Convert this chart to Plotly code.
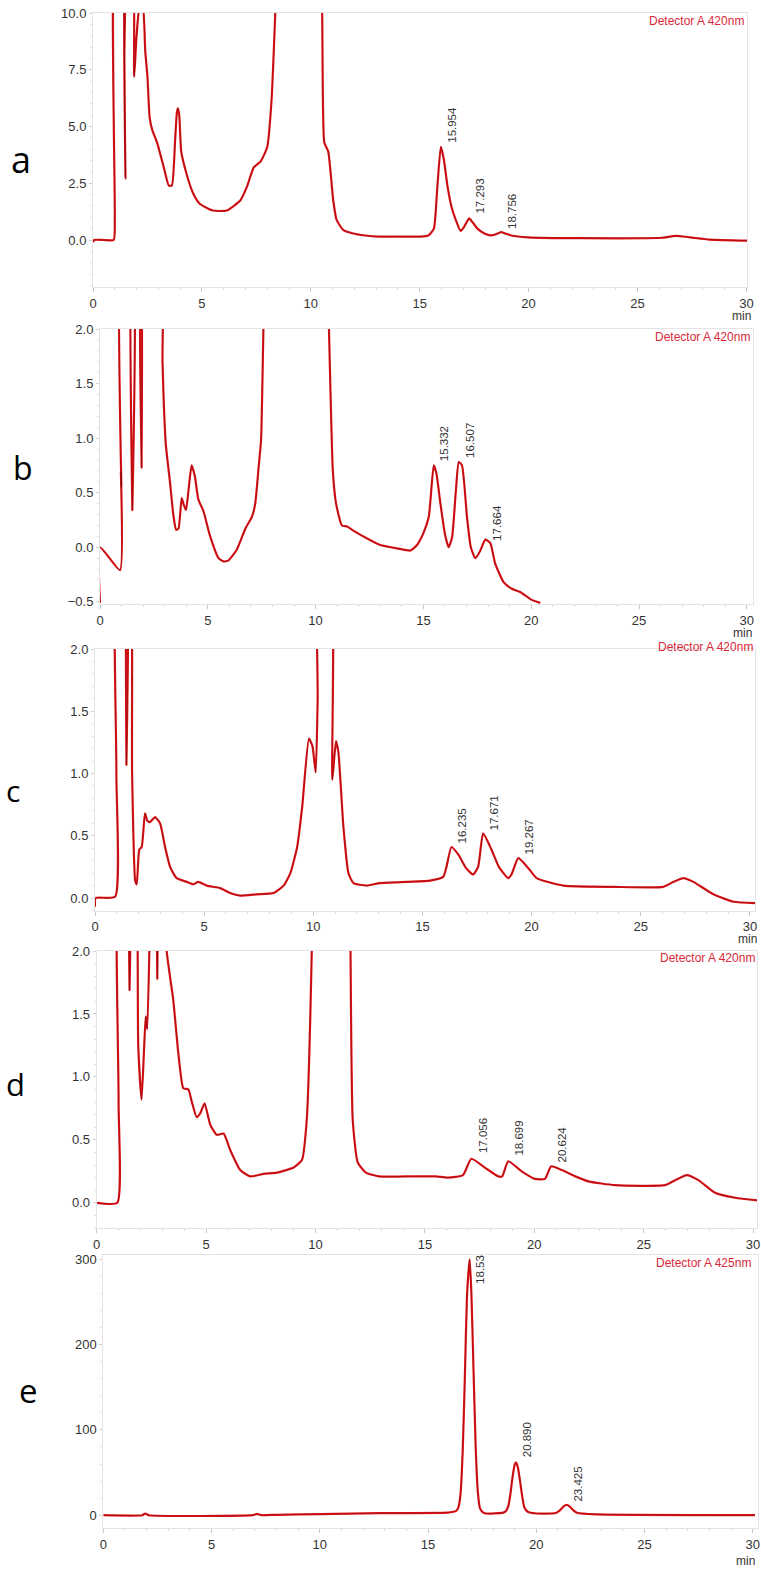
import plotly.graph_objects as go

W, H = 761, 1570

# ---- values (time in min) ----
a_t = [0, 0.05, 0.5, 0.95, 1.0, 1.06, 1.40, 1.44, 1.49, 1.55, 1.78, 1.89, 2.0, 2.15, 2.28, 2.4, 2.5,
       2.6, 2.72, 2.94, 3.25, 3.48, 3.62, 3.77, 3.85, 3.9, 3.96, 4.05, 4.3, 4.6, 4.9, 5.5, 6.15, 6.77,
       7.07, 7.38, 7.69, 8.0, 8.2, 8.37, 8.6, 10.3, 10.52, 10.62, 10.8, 11.03, 11.18, 11.48, 11.9,
       12.5, 13.1, 14.0, 15.05, 15.4, 15.65, 15.8, 15.97, 16.1, 16.28, 16.45, 16.65, 16.88, 17.05,
       17.27, 17.45, 17.65, 17.95, 18.27, 18.5, 18.73, 18.95, 19.2, 19.97, 22.4, 26.1, 26.75, 27.4,
       28.3, 30.05]
a_y = [-0.1, 0.0, 0.0, 0.0, 1.0, 14, 14, 8, 2.7, 14, 14, 7.2, 9.0, 10.3, 10.3, 8.3, 7.2,
       5.4, 4.85, 4.3, 3.2, 2.4, 2.4, 4.4, 5.6, 5.8, 5.5, 3.9, 2.9, 2.05, 1.6, 1.3, 1.3, 1.75,
       2.35, 3.2, 3.45, 4.1, 6.2, 10, 16, 16, 10, 4.3, 3.9, 1.75, 0.9, 0.45, 0.3,
       0.2, 0.15, 0.15, 0.15, 0.2, 0.5, 2.2, 4.1, 3.6, 2.35, 1.5, 0.9, 0.4, 0.6,
       0.95, 0.75, 0.5, 0.3, 0.2, 0.25, 0.35, 0.28, 0.2, 0.12, 0.08, 0.1, 0.18, 0.12,
       0.02, -0.03]
a_pk_t = [15.97, 17.27, 18.73]
a_pk_y = [4.1, 0.95, 0.35]
a_pk_lbl = ["15.954", "17.293", "18.756"]

b_t = [0, 0, 0.93, 0.97, 0.99, 1.03, 1.46, 1.5, 1.54, 1.8, 1.93, 2.06, 2.8, 2.9, 3.05, 3.25, 3.4,
       3.53, 3.64, 3.79, 3.9, 3.99, 4.12, 4.25, 4.4, 4.56, 4.8, 5.11, 5.5, 5.73, 5.96, 6.35, 6.74,
       7.05, 7.2, 7.36, 7.47, 7.58, 7.7, 10.5, 10.62, 10.8, 10.95, 11.22, 11.46, 11.77, 12.39,
       13.0, 13.78, 14.4, 14.7, 15.0, 15.25, 15.48, 15.6, 15.79, 16.0, 16.17, 16.33, 16.5, 16.64,
       16.79, 17.02, 17.2, 17.41, 17.64, 17.87, 18.1, 18.33, 18.72, 19.1, 19.49, 20.0, 20.42]
b_y = [-0.51, 0.0, -0.21, 0.69, 0.55, 3, 3, 0.34, 3, 3, 0.73, 3, 3, 1.7, 0.95, 0.59, 0.3,
       0.16, 0.17, 0.45, 0.38, 0.34, 0.55, 0.75, 0.65, 0.44, 0.33, 0.1, -0.1, -0.13, -0.12, -0.02, 0.17,
       0.28, 0.4, 0.74, 0.98, 2.0, 3, 3, 2.0, 0.7, 0.4, 0.2, 0.19, 0.15, 0.08,
       0.02, -0.01, -0.03, 0.02, 0.13, 0.28, 0.75, 0.68, 0.4, 0.12, 0.0, 0.09, 0.5, 0.78,
       0.75, 0.28, 0.0, -0.1, -0.03, 0.07, 0.04, -0.15, -0.32, -0.38, -0.41, -0.48, -0.51]
b_pk_t = [15.48, 16.64, 17.87]
b_pk_y = [0.75, 0.78, 0.07]
b_pk_lbl = ["15.332", "16.507", "17.664"]

c_t = [0, 0.03, 0.92, 0.98, 1.02, 1.38, 1.44, 1.5, 1.6, 1.7, 1.84, 1.91, 2.03, 2.14, 2.29, 2.4,
       2.52, 2.75, 2.98, 3.21, 3.44, 3.74, 4.2, 4.5, 4.73, 5.12, 5.73, 6.19, 6.65, 7.41, 8.18,
       8.64, 8.95, 9.26, 9.49, 9.8, 9.96, 10.11, 10.2, 10.28, 10.75, 10.87, 11.04, 11.15, 11.38,
       11.61, 11.84, 12.45, 13.05, 15.34, 15.95, 16.1, 16.33, 16.64, 17.0, 17.32, 17.55, 17.78,
       18.16, 18.5, 18.93, 19.08, 19.39, 19.85, 20.23, 21.45, 23.74, 26.03, 26.5, 26.96, 27.41,
       28.33, 29.25, 30.25]
c_y = [-0.07, 0.0, 0.01, 1.0, 3, 3, 1.07, 3, 3, 1.0, 0.14, 0.11, 0.39, 0.41, 0.68, 0.62,
       0.61, 0.65, 0.6, 0.41, 0.25, 0.16, 0.13, 0.11, 0.13, 0.1, 0.08, 0.04, 0.02, 0.03, 0.04,
       0.1, 0.2, 0.41, 0.73, 1.28, 1.22, 1.01, 1.6, 3, 3, 0.95, 1.26, 1.17, 0.57,
       0.2, 0.12, 0.1, 0.12, 0.14, 0.17, 0.25, 0.41, 0.35, 0.24, 0.19, 0.25, 0.52,
       0.39, 0.25, 0.16, 0.19, 0.32, 0.24, 0.16, 0.1, 0.09, 0.09, 0.13, 0.16, 0.13,
       0.03, -0.03, -0.04]
c_pk_t = [16.33, 17.78, 19.39]
c_pk_y = [0.41, 0.52, 0.32]
c_pk_lbl = ["16.235", "17.671", "19.267"]

d_t = [0, 0.94, 1.0, 1.05, 1.45, 1.5, 1.55, 1.72, 1.9, 2.05, 2.16, 2.24, 2.31, 2.43, 2.5, 2.7,
       2.77, 2.84, 3.1, 3.2, 3.5, 3.73, 3.96, 4.19, 4.35, 4.57, 4.73, 4.93, 5.19, 5.49, 5.8, 6.1,
       6.56, 7.02, 7.63, 8.24, 9.0, 9.38, 9.6, 9.83, 9.9, 11.55, 11.6, 11.7, 11.93, 12.3, 12.9,
       14.5, 15.5, 16.05, 16.74, 17.12, 17.74, 18.35, 18.53, 18.81, 19.42, 20.03, 20.49, 20.77,
       21.26, 21.87, 22.48, 23.7, 25.98, 26.44, 26.97, 27.5, 28.26, 29.18, 30.2]
d_y = [0.0, 0.0, 0.8, 3, 3, 1.69, 3, 3, 1.24, 0.82, 1.2, 1.48, 1.38, 2.2, 3, 3,
       1.78, 3, 3, 2.0, 1.61, 1.19, 0.91, 0.9, 0.8, 0.68, 0.71, 0.79, 0.62, 0.54, 0.55, 0.42,
       0.26, 0.21, 0.23, 0.24, 0.28, 0.34, 0.66, 2.0, 3, 3, 2.0, 0.66, 0.32, 0.24, 0.21,
       0.21, 0.21, 0.2, 0.22, 0.35, 0.28, 0.21, 0.21, 0.33, 0.25, 0.19, 0.19, 0.29,
       0.26, 0.21, 0.17, 0.14, 0.14, 0.18, 0.22, 0.18, 0.08, 0.04, 0.02]
d_pk_t = [17.12, 18.81, 20.77]
d_pk_y = [0.35, 0.33, 0.29]
d_pk_lbl = ["17.056", "18.699", "20.624"]

e_t = [0, 1.8, 1.94, 2.1, 6.9, 7.1, 7.3, 8.0, 10.0, 12.8, 15.9, 16.3, 16.4, 16.5, 16.6, 16.7,
       16.8, 16.92, 17.0, 17.1, 17.2, 17.3, 17.4, 17.55, 17.7, 18.47, 18.6, 18.7, 18.8, 18.9,
       19.0, 19.06, 19.15, 19.25, 19.35, 19.45, 19.6, 20.0, 20.9, 21.1, 21.25, 21.4, 21.55,
       21.7, 21.9, 22.78, 30.1]
e_y = [0, 0, 2, 0, 0, 1.5, 0, 0.5, 1.2, 2.5, 3, 5, 9, 25, 75, 162,
       258, 300, 262, 170, 80, 27, 8, 3, 2, 3, 5, 10, 24, 44,
       59, 62, 56, 40, 22, 9, 4, 2, 2.5, 6, 10, 12, 10,
       6, 2.5, 1, 0]
e_pk_t = [16.92, 19.06, 21.4]
e_pk_y = [300, 62, 12]
e_pk_lbl = ["18.53", "20.890", "23.425"]

# ---- panel geometry (pixels of the 761x1570 page) ----
panels = [
    dict(t=a_t, y=a_y, pk=(a_pk_t, a_pk_y, a_pk_lbl), pk_dy=[22, 22, 21], letter="a", lsize=36,
         lxy=(21, 160), det="Detector A 420nm", dxy=(746, 21), mxy=(741, 316),
         x0=93, ppm=21.78, xr=[0, 30.05], yr=[-2.07, 10.0], top=13, bot=287,
         dtick=2.5, minor=0.5, fmt=".1f"),
    dict(t=b_t, y=b_y, pk=(b_pk_t, b_pk_y, b_pk_lbl), pk_dy=[22, 22, 17], letter="b", lsize=32,
         lxy=(23, 468), det="Detector A 420nm", dxy=(752, 337), mxy=(742, 633),
         x0=100, ppm=21.56, xr=[0, 30.3], yr=[-0.52, 2.0], top=329, bot=604,
         dtick=0.5, minor=0.1, fmt=".1f"),
    dict(t=c_t, y=c_y, pk=(c_pk_t, c_pk_y, c_pk_lbl), pk_dy=[21, 20, 21], letter="c", lsize=30,
         lxy=(13, 790), det="Detector A 420nm", dxy=(755, 647), mxy=(747, 939),
         x0=95, ppm=21.83, xr=[0, 30.25], yr=[-0.1, 2.0], top=649, bot=910.5,
         dtick=0.5, minor=0.1, fmt=".1f"),
    dict(t=d_t, y=d_y, pk=(d_pk_t, d_pk_y, d_pk_lbl), pk_dy=[23, 23, 22], letter="d", lsize=31,
         lxy=(15, 1084), det="Detector A 420nm", dxy=(757, 958), mxy=None,
         x0=96.7, ppm=21.88, xr=[0, 30.2], yr=[-0.2, 2.0], top=951, bot=1228,
         dtick=0.5, minor=0.1, fmt=".1f"),
    dict(t=e_t, y=e_y, pk=(e_pk_t, e_pk_y, e_pk_lbl), pk_dy=[-10, 23, 21], letter="e", lsize=33,
         lxy=(28, 1390), det="Detector A 425nm", dxy=(753, 1263), mxy=(745, 1561),
         x0=103.3, ppm=21.65, xr=[0, 30.25], yr=[-15, 305], top=1255, bot=1528,
         dtick=100, minor=20, fmt="d"),
]

RED = "#e3161b"
TXT = "#333333"
TICKFONT = dict(family="Liberation Sans, Arial", size=13, color=TXT)

fig = go.Figure()
layout = dict(width=W, height=H, margin=dict(l=0, r=0, t=0, b=0, autoexpand=False),
              paper_bgcolor="white", plot_bgcolor="white", showlegend=False)
annotations = []

for i, p in enumerate(panels, start=1):
    xa = "x" if i == 1 else f"x{i}"
    ya = "y" if i == 1 else f"y{i}"
    x_left = p["x0"] / W
    x_right = (p["x0"] + p["xr"][1] * p["ppm"]) / W
    layout[f"xaxis{i}"] = dict(
        domain=[x_left, min(x_right, 1.0)], range=p["xr"], anchor=ya, automargin=False,
        dtick=5, tick0=0, showgrid=False, zeroline=False,
        showline=True, linecolor="#e4e4e4", mirror=True, linewidth=1,
        ticks="outside", ticklen=4, tickcolor="#c8c8c8", tickfont=TICKFONT,
        minor=dict(dtick=1, ticks="outside", ticklen=2, tickcolor="#d8d8d8"),
    )
    layout[f"yaxis{i}"] = dict(
        domain=[1 - p["bot"] / H, 1 - p["top"] / H], range=p["yr"], anchor=xa, automargin=False,
        dtick=p["dtick"], tick0=0, tickformat=p["fmt"], showgrid=False, zeroline=False,
        showline=True, linecolor="#e4e4e4", mirror=True, linewidth=1,
        ticks="outside", ticklen=3, tickcolor="#d0d0d0", tickfont=TICKFONT,
        minor=dict(dtick=p["minor"], ticks="outside", ticklen=2, tickcolor="#e0e0e0"),
    )

    fig.add_trace(go.Scatter(x=p["t"], y=p["y"], mode="lines", xaxis=xa, yaxis=ya,
                             line=dict(color=RED, width=2.2, shape="spline", smoothing=0.5),
                             hoverinfo="skip"))
    fig.add_trace(go.Scatter(x=p["t"], y=p["y"], mode="lines", xaxis=xa, yaxis=ya,
                             line=dict(color="rgba(70,0,0,0.55)", width=0.6, shape="spline",
                                       smoothing=0.5),
                             hoverinfo="skip"))

    # retention-time labels beside each peak
    for pt, py_, lbl, dy in zip(*p["pk"], p["pk_dy"]):
        annotations.append(dict(x=pt, y=min(py_, p["yr"][1]), xref=xa, yref=ya, text=lbl,
                                textangle=-90, showarrow=False, xanchor="center",
                                yanchor="middle", xshift=11, yshift=dy,
                                font=dict(family="Liberation Sans, Arial", size=11.5, color=TXT)))

    annotations.append(dict(x=p["dxy"][0] / W, y=1 - p["dxy"][1] / H, xref="paper", yref="paper",
                            text=p["det"], showarrow=False, xanchor="right", yanchor="middle",
                            font=dict(family="Liberation Sans, Arial", size=12, color="#d8283a")))
    annotations.append(dict(x=p["lxy"][0] / W, y=1 - p["lxy"][1] / H, xref="paper", yref="paper",
                            text=p["letter"], showarrow=False, xanchor="center", yanchor="middle",
                            font=dict(family="Open Sans", size=p["lsize"], color="black")))
    if p["mxy"] is not None:
        annotations.append(dict(x=p["mxy"][0] / W, y=1 - p["mxy"][1] / H, xref="paper",
                                yref="paper", text="min", showarrow=False, xanchor="center",
                                yanchor="middle",
                                font=dict(family="Liberation Sans, Arial", size=12, color=TXT)))

layout["annotations"] = annotations
fig.update_layout(**layout)
# the page's default body margin would shift the fixed-size figure; drop it
fig.write_html("out.html", config={"displayModeBar": False},
               post_script="document.body.style.margin='0px';"
                           "document.body.style.overflow='hidden';")
